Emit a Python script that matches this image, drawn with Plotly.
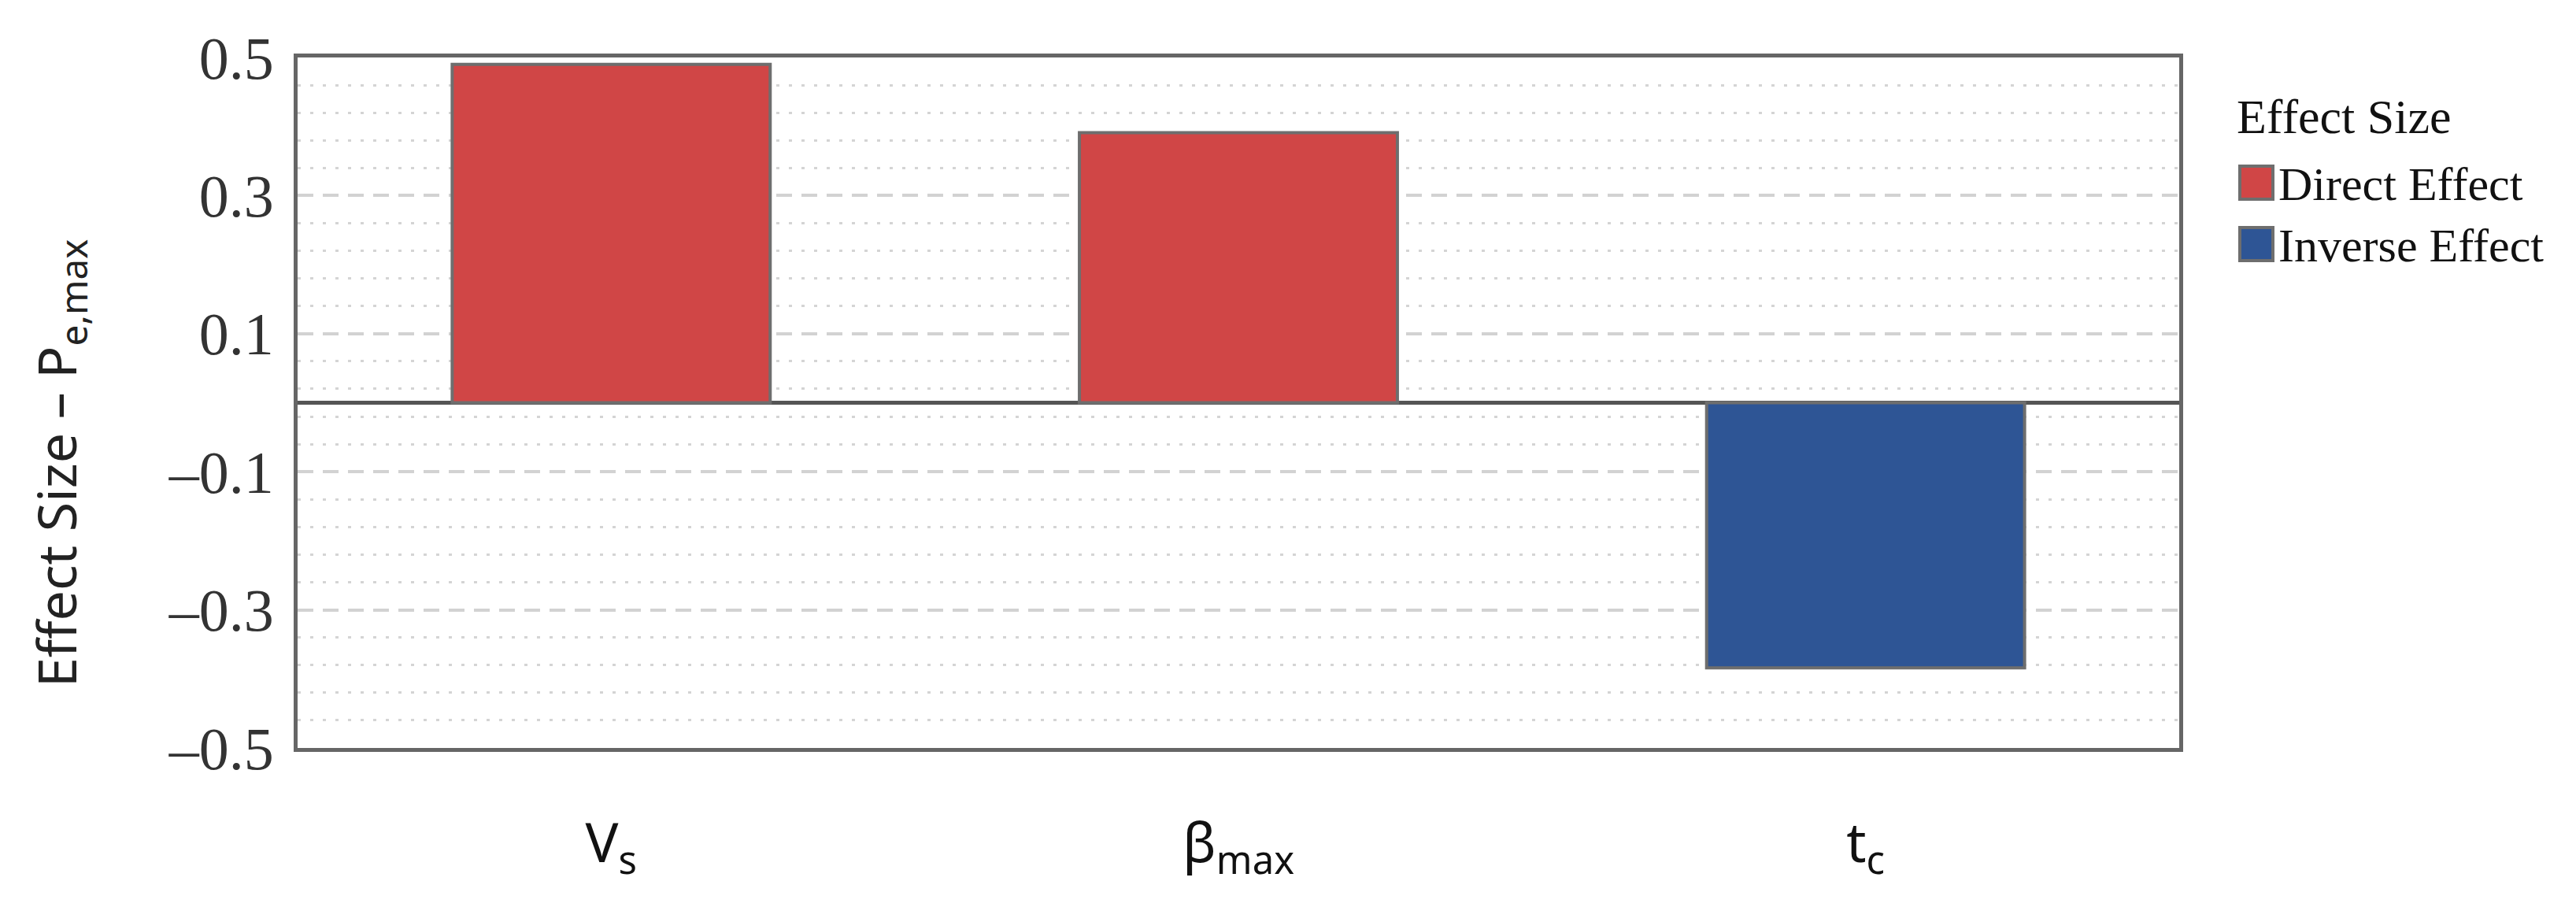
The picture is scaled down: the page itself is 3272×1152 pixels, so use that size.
import plotly.graph_objects as go

# ---- data ----
categories = ["V<sub>s</sub>", "β<sub>max</sub>", "t<sub>c</sub>"]
direct_categories = ["V<sub>s</sub>", "β<sub>max</sub>"]
direct_values = [0.49, 0.391]
inverse_categories = ["t<sub>c</sub>"]
inverse_values = [-0.384]
y_tickvals = [-0.5, -0.3, -0.1, 0.1, 0.3, 0.5]
y_ticktext = ["–0.5", "–0.3", "–0.1", "0.1", "0.3", "0.5"]
legend_title = "Effect Size"
legend_labels = ["Direct Effect", "Inverse Effect"]
y_title = "Effect Size – P<sub>e,max</sub>"

# ---- style ----
RED = "#D04646"
BLUE = "#2E5595"
EDGE = "#6E6E6E"
W, H = 3272, 1152
L, R, T, B = 370, 2760, 65, 942


def px_x(x):
    return (x - L) / (R - L)


def px_y(y):
    return (B - y) / (B - T)


fig = go.Figure()
fig.add_trace(go.Bar(x=direct_categories, y=direct_values, name=legend_labels[0],
                     marker=dict(color=RED, line=dict(color=EDGE, width=4)),
                     showlegend=False))
fig.add_trace(go.Bar(x=inverse_categories, y=inverse_values, name=legend_labels[1],
                     marker=dict(color=BLUE, line=dict(color=EDGE, width=4)),
                     showlegend=False))

fig.update_layout(
    width=W, height=H,
    margin=dict(l=L, r=W - R, t=T, b=H - B, pad=0),
    paper_bgcolor="white", plot_bgcolor="white",
    barmode="relative", bargap=0.493,
    showlegend=False,
)

fig.update_xaxes(
    type="category", categoryorder="array", categoryarray=categories,
    range=[-0.5, 2.5],
    showgrid=False, zeroline=False,
    showline=True, linecolor="#666666", linewidth=5, mirror=True,
    ticks="", ticklabelstandoff=56,
    tickfont=dict(family="Noto Sans", size=70, color="#111111"),
)

fig.update_yaxes(
    range=[-0.5, 0.5],
    tickmode="array", tickvals=y_tickvals, ticktext=y_ticktext,
    ticks="", ticklabelstandoff=10,
    tickfont=dict(family="Liberation Serif", size=76, color="#333333"),
    showgrid=True, gridcolor="#D2D2D2", gridwidth=4, griddash="20px,12px",
    minor=dict(tickmode="linear", tick0=0.1, dtick=0.04, showgrid=True,
               gridcolor="#D4D4D4", gridwidth=3, griddash="4px,12px"),
    zeroline=True, zerolinecolor="#555555", zerolinewidth=5,
    showline=True, linecolor="#666666", linewidth=5, mirror=True,
)

# y-axis title
fig.add_annotation(text=y_title, textangle=-90, xref="paper", yref="paper",
                   x=px_x(66), y=px_y(580), xanchor="center", yanchor="middle",
                   showarrow=False,
                   font=dict(family="Noto Sans", size=68, color="#222222"))

# legend (drawn manually so swatches match the reference size)
fig.add_annotation(text=legend_title, xref="paper", yref="paper",
                   x=px_x(2831), y=px_y(140), xanchor="left", yanchor="middle",
                   showarrow=False,
                   font=dict(family="Liberation Serif", size=62, color="#111111"))
legend_colors = [RED, BLUE]
legend_rows_y = [224, 302]
sw = 42
for lab, col, yc in zip(legend_labels, legend_colors, legend_rows_y):
    fig.add_shape(type="rect", xref="paper", yref="paper",
                  x0=px_x(2837), x1=px_x(2837 + sw),
                  y0=px_y(yc + sw / 2), y1=px_y(yc - sw / 2),
                  fillcolor=col, line=dict(color=EDGE, width=4))
    fig.add_annotation(text=lab, xref="paper", yref="paper",
                       x=px_x(2884), y=px_y(yc + 2), xanchor="left", yanchor="middle",
                       showarrow=False,
                       font=dict(family="Liberation Serif", size=60, color="#111111"))

fig.write_html("out.html")
